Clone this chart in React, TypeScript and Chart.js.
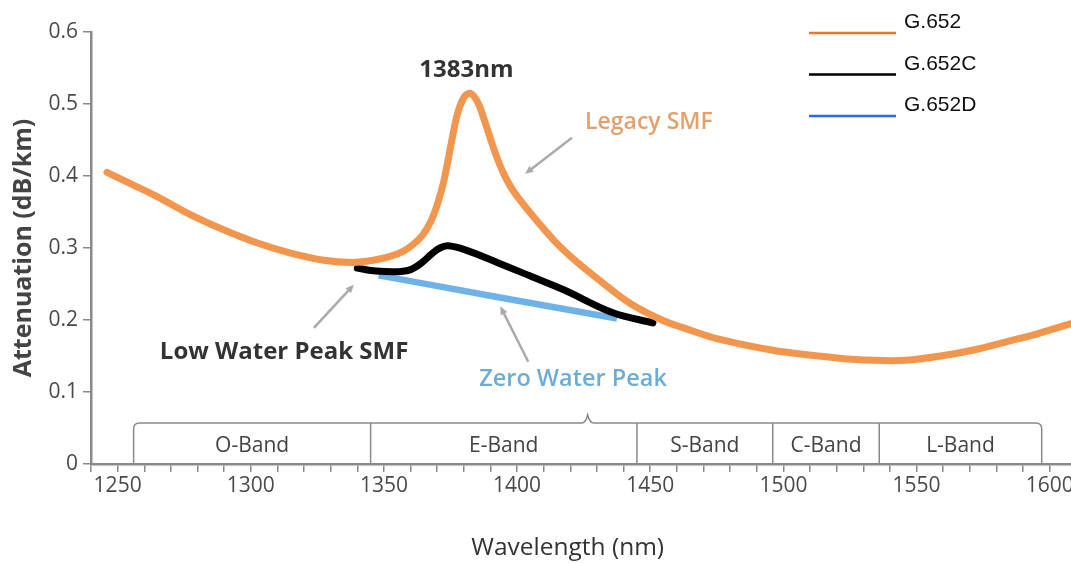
import React, { useEffect, useRef } from "react";
import { Chart, registerables } from "chart.js";

Chart.register(...registerables);

// ---------- data ----------
const seriesLabels = ["G.652", "G.652C", "G.652D"];

const legacyWavelength = [
  1246, 1255, 1265, 1277.5, 1290, 1302.5, 1315, 1327.5, 1338, 1346, 1352, 1357,
  1361, 1364.5, 1367.5, 1370, 1372.5, 1375, 1377.5, 1380, 1382, 1384, 1386, 1389, 1392,
  1395, 1399, 1406, 1414, 1422, 1432, 1442.5, 1455, 1465, 1475, 1496, 1521, 1534, 1546,
  1559, 1571, 1584, 1596, 1608,
];
const legacyAttenuation = [
  0.405, 0.389, 0.371, 0.346, 0.325, 0.307, 0.293, 0.283, 0.28, 0.283, 0.288, 0.295,
  0.305, 0.318, 0.336, 0.36, 0.393, 0.44, 0.485, 0.509, 0.515, 0.51, 0.496, 0.463, 0.43,
  0.403, 0.377, 0.344, 0.31, 0.282, 0.252, 0.223, 0.199, 0.186, 0.174, 0.158, 0.147, 0.144, 0.144,
  0.15, 0.158, 0.17, 0.1815, 0.195,
];

const lowWaterWavelength = [
  1340, 1347, 1355, 1360, 1364, 1368, 1371, 1374, 1380, 1392.5, 1405, 1417.5, 1436, 1451,
];
const lowWaterAttenuation = [
  0.272, 0.268, 0.267, 0.27, 0.279, 0.292, 0.3, 0.303, 0.298, 0.28, 0.261, 0.242, 0.21, 0.196,
];

const zeroWaterWavelength = [1348, 1392.5, 1437.5];
const zeroWaterAttenuation = [0.262, 0.232, 0.202];

const xLabelValues = [1250, 1300, 1350, 1400, 1450, 1500, 1550, 1600];
const yTickValues = [0, 0.1, 0.2, 0.3, 0.4, 0.5, 0.6];

const bandNames = ["O-Band", "E-Band", "S-Band", "C-Band", "L-Band"];
const bandEdges = [1256, 1345, 1445, 1496, 1536, 1597];

// ---------- styling / placement ----------
const lineColors = ["#F2964E", "#000000", "#6EB2EA"];
const legendColors = ["#E8772E", "#000000", "#2F66EE"];
const FONT = "'Open Sans', sans-serif";

const bracketLevel = 0.057;
const braceTip = 1426.5;
const bandLabelLevel = 0.025;

const notes = [
  { text: "1383nm", x: 1381, y: 0.547, color: "#333333", weight: "bold", size: 24 },
  { text: "Legacy SMF", x: 1449.5, y: 0.474, color: "#E2A06C", weight: "600", size: 23 },
  { text: "Low Water Peak SMF", x: 1312.5, y: 0.156, color: "#333333", weight: "bold", size: 24 },
  { text: "Zero Water Peak", x: 1421, y: 0.117, color: "#6CADD8", weight: "600", size: 23.5 },
];
const arrows = [
  { x1: 1420.6, y1: 0.453, x2: 1403, y2: 0.403 },
  { x1: 1323.7, y1: 0.189, x2: 1338.7, y2: 0.249 },
  { x1: 1404.2, y1: 0.142, x2: 1393.7, y2: 0.219 },
];

const toPoints = (xs: number[], ys: number[]) => xs.map((x, i) => ({ x, y: ys[i] }));

const drawArrow = (ctx: CanvasRenderingContext2D, x1: number, y1: number, x2: number, y2: number) => {
  const ang = Math.atan2(y2 - y1, x2 - x1);
  const head = 9;
  ctx.beginPath();
  ctx.moveTo(x1, y1);
  ctx.lineTo(x2 - Math.cos(ang) * 4, y2 - Math.sin(ang) * 4);
  ctx.stroke();
  ctx.beginPath();
  ctx.moveTo(x2, y2);
  ctx.lineTo(x2 - head * Math.cos(ang - 0.42), y2 - head * Math.sin(ang - 0.42));
  ctx.lineTo(x2 - head * Math.cos(ang + 0.42), y2 - head * Math.sin(ang + 0.42));
  ctx.closePath();
  ctx.fill();
};

const overlayPlugin = {
  id: "overlay",
  beforeDatasetsDraw(chart: any) {
    const { ctx, scales } = chart;
    const x = scales.x;
    const y = scales.y;
    const top = y.getPixelForValue(bracketLevel);
    const base = y.getPixelForValue(0);
    const px = bandEdges.map((v) => x.getPixelForValue(v));
    const tip = x.getPixelForValue(braceTip);
    const r = 6;
    ctx.save();
    ctx.strokeStyle = "#8a8a8a";
    ctx.lineWidth = 1.5;
    ctx.beginPath();
    ctx.moveTo(px[0], base);
    ctx.lineTo(px[0], top + r);
    ctx.quadraticCurveTo(px[0], top, px[0] + r, top);
    ctx.lineTo(tip - 6, top);
    ctx.quadraticCurveTo(tip - 2, top, tip, top - 8);
    ctx.quadraticCurveTo(tip + 2, top, tip + 6, top);
    const last = px[px.length - 1];
    ctx.lineTo(last - r, top);
    ctx.quadraticCurveTo(last, top, last, top + r);
    ctx.lineTo(last, base);
    ctx.stroke();
    for (let i = 1; i < px.length - 1; i++) {
      ctx.beginPath();
      ctx.moveTo(px[i], top);
      ctx.lineTo(px[i], base);
      ctx.stroke();
    }
    ctx.fillStyle = "#444444";
    ctx.font = `21px ${FONT}`;
    ctx.textAlign = "center";
    ctx.textBaseline = "middle";
    const ly = y.getPixelForValue(bandLabelLevel);
    bandNames.forEach((name, i) => {
      ctx.fillText(name, (px[i] + px[i + 1]) / 2, ly);
    });
    ctx.restore();
  },
  afterDatasetsDraw(chart: any) {
    const { ctx, scales } = chart;
    const x = scales.x;
    const y = scales.y;
    ctx.save();
    // arrows
    ctx.strokeStyle = "#aaaaaa";
    ctx.fillStyle = "#aaaaaa";
    ctx.lineWidth = 2.5;
    arrows.forEach((a) =>
      drawArrow(ctx, x.getPixelForValue(a.x1), y.getPixelForValue(a.y1), x.getPixelForValue(a.x2), y.getPixelForValue(a.y2))
    );
    // annotation texts
    ctx.textAlign = "center";
    ctx.textBaseline = "middle";
    notes.forEach((n) => {
      ctx.font = `${n.weight} ${n.size}px ${FONT}`;
      ctx.fillStyle = n.color;
      ctx.fillText(n.text, x.getPixelForValue(n.x), y.getPixelForValue(n.y));
    });
    // x axis title
    ctx.font = `24.5px ${FONT}`;
    ctx.fillStyle = "#333333";
    ctx.fillText("Wavelength (nm)", x.getPixelForValue(1419), 548);
    // legend
    ctx.textAlign = "left";
    ctx.font = "21px 'Liberation Sans', Arial, sans-serif";
    chart.data.datasets.forEach((ds: any, i: number) => {
      const rowY = 22.5 + i * 41.5;
      ctx.strokeStyle = legendColors[i];
      ctx.lineWidth = 2.5;
      ctx.beginPath();
      ctx.moveTo(809, rowY + 10.5);
      ctx.lineTo(896, rowY + 10.5);
      ctx.stroke();
      ctx.fillStyle = "#111111";
      ctx.fillText(ds.label, 904, rowY);
    });
    ctx.restore();
  },
};

export default function App() {
  const canvasRef = useRef<HTMLCanvasElement | null>(null);

  useEffect(() => {
    const canvas = canvasRef.current;
    if (!canvas) return;
    const chart = new Chart(canvas, {
      type: "line",
      data: {
        datasets: [
          {
            label: seriesLabels[0],
            data: toPoints(legacyWavelength, legacyAttenuation),
            borderColor: lineColors[0],
            borderWidth: 7,
            borderCapStyle: "round",
            borderJoinStyle: "round",
            pointRadius: 0,
            tension: 0.3,
          },
          {
            label: seriesLabels[1],
            data: toPoints(lowWaterWavelength, lowWaterAttenuation),
            borderColor: lineColors[1],
            borderWidth: 7,
            borderCapStyle: "round",
            borderJoinStyle: "round",
            pointRadius: 0,
            tension: 0.35,
          },
          {
            label: seriesLabels[2],
            data: toPoints(zeroWaterWavelength, zeroWaterAttenuation),
            borderColor: lineColors[2],
            borderWidth: 6.5,
            borderCapStyle: "butt",
            pointRadius: 0,
            tension: 0.3,
          },
        ],
      },
      options: {
        animation: false,
        responsive: false,
        devicePixelRatio: 1,
        layout: { padding: { top: 32, right: 0, left: 0, bottom: 0 } },
        plugins: { legend: { display: false }, tooltip: { enabled: false } },
        scales: {
          x: {
            type: "linear",
            min: 1240,
            max: 1608,
            grid: { drawOnChartArea: false, drawTicks: true, tickLength: 8, color: "#8a8a8a", lineWidth: 1.5 },
            border: { display: true, color: "#8a8a8a", width: 2.5 },
            ticks: {
              stepSize: 10,
              includeBounds: false,
              autoSkip: false,
              maxRotation: 0,
              padding: 1,
              color: "#4a4a4a",
              font: { family: FONT, size: 21 },
              callback: (v: any) => (xLabelValues.includes(Number(v)) ? String(v) : ""),
            },
            afterFit: (s: any) => {
              s.height = 99;
              s.paddingLeft = 0;
              s.paddingRight = 0;
            },
          },
          y: {
            type: "linear",
            min: 0,
            max: 0.6,
            afterBuildTicks: (s: any) => {
              s.ticks = yTickValues.map((v) => ({ value: v }));
            },
            grid: { drawOnChartArea: false, drawTicks: true, tickLength: 8, color: "#8a8a8a", lineWidth: 1.5 },
            border: { display: true, color: "#8a8a8a", width: 2.5 },
            ticks: {
              padding: 5,
              color: "#4a4a4a",
              font: { family: FONT, size: 21 },
              callback: (v: any) => String(Number(Number(v).toFixed(1))),
            },
            title: {
              display: true,
              text: "Attenuation (dB/km)",
              color: "#444444",
              font: { family: FONT, size: 25, weight: "bold" },
              padding: { top: 9, bottom: 0 },
            },
            afterFit: (s: any) => {
              s.width = 91;
            },
          },
        },
      },
      plugins: [overlayPlugin],
    } as any);
    return () => chart.destroy();
  }, []);

  return (
    <canvas
      ref={canvasRef}
      width={1071}
      height={563}
      style={{ position: "absolute", left: 0, top: 0, width: 1071, height: 563, display: "block" }}
    />
  );
}
